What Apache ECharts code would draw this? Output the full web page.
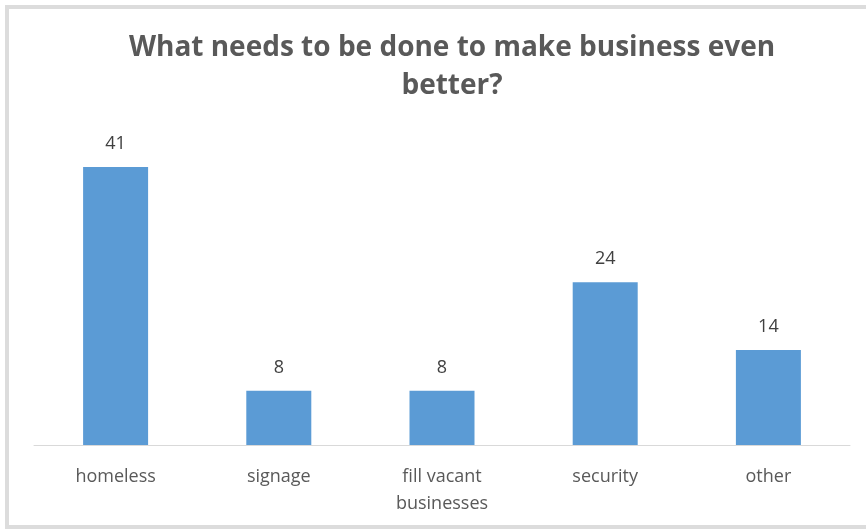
<!DOCTYPE html>
<html>
<head>
<meta charset="utf-8">
<style>
  html, body { margin: 0; padding: 0; background: #ffffff; }
  #chart { width: 866px; height: 529px; }
</style>
<script src="https://cdn.jsdelivr.net/npm/echarts@6/dist/echarts.min.js"></script>
</head>
<body>
<div id="chart"></div>
<script>
// Survey answers: what would make business even better
const categories = ['homeless', 'signage', 'fill vacant\nbusinesses', 'security', 'other'];
const responses = [41, 8, 8, 24, 14];

const chart = echarts.init(document.getElementById('chart'));

chart.setOption({
  animation: false,
  backgroundColor: '#ffffff',
  title: {
    text: 'What needs to be done to make business even\nbetter?',
    left: 447,
    top: 24,
    textAlign: 'center',
    textStyle: {
      fontFamily: 'Open Sans',
      fontWeight: 'bold',
      fontSize: 28,
      lineHeight: 38,
      color: '#595959'
    }
  },
  graphic: [{
    type: 'rect',
    silent: true,
    shape: { x: 7, y: 7, width: 900, height: 520 },
    style: { fill: 'none', stroke: '#dcdcdc', lineWidth: 4 }
  }],
  grid: { left: 34, right: 16, top: 140, bottom: 84 },
  xAxis: {
    type: 'category',
    data: categories,
    axisLine: { lineStyle: { color: '#d9d9d9', width: 1 } },
    axisTick: { show: false },
    axisLabel: {
      interval: 0,
      margin: 18,
      fontFamily: 'Open Sans',
      fontSize: 18,
      lineHeight: 27,
      color: '#595959'
    }
  },
  yAxis: {
    type: 'value',
    min: 0,
    max: 45,
    interval: 5,
    show: false,
    splitLine: { show: false }
  },
  series: [{
    type: 'bar',
    data: responses,
    barWidth: 65,
    itemStyle: { color: '#5b9bd5' },
    label: {
      show: true,
      position: 'top',
      distance: 14,
      fontFamily: 'Open Sans',
      fontSize: 18,
      color: '#404040'
    }
  }]
});
</script>
</body>
</html>
